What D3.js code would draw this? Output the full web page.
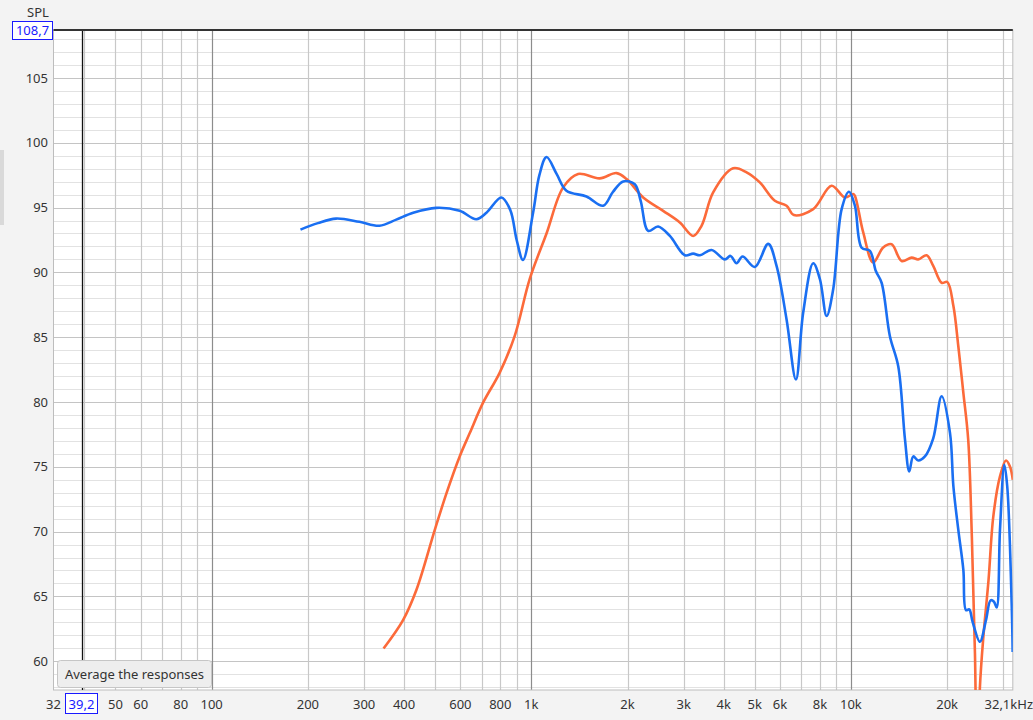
<!DOCTYPE html>
<html><head><meta charset="utf-8">
<script src="https://cdn.jsdelivr.net/npm/d3@7/dist/d3.min.js"></script>
<style>
html,body{margin:0;padding:0;background:#f3f3f3;}
svg{display:block;font-family:"Noto Sans","Open Sans",sans-serif;}
</style></head>
<body>
<svg id="c" width="1033" height="720"></svg>
<script>
// ---- data ----
const blueFreq = [189.6,215,245,290,335,378,427,504,597,673,724,806,860,900,942,1013,1060,1116,1200,1288,1488,1678,1800,1939,2108,2200,2321,2494,2714,3023,3210,3370,3664,4033,4201,4387,4581,5005,5512,5853,6291,6729,7091,7622,8000,8394,8802,9354,9862,10293,10803,11468,11968,12473,13243,14063,14765,15224,15670,16240,17045,18095,19224,20420,20926,21680,22480,22909,23450,24030,25330,26460,27360,28030,28580,29270,30200,30840,31840,32070];
const blueSpl  = [93.3,93.8,94.15,93.9,93.6,94.07,94.6,94.98,94.75,94.1,94.6,95.78,94.8,92.5,90.96,94.6,97.5,98.9,97.6,96.3,95.86,95.14,96.2,97.02,96.8,95.5,93.2,93.54,92.81,91.32,91.45,91.32,91.73,91.0,91.27,90.7,91.22,90.42,92.2,90.5,86.37,81.73,86.9,90.7,89.47,86.63,88.7,94.88,96.22,95.14,91.9,91.66,90.1,89.2,85.08,82.76,77.1,74.64,75.8,75.49,75.8,77.2,80.44,77.6,73.48,70.13,67.04,63.94,64.0,63.04,61.5,63.17,64.7,64.59,64.15,70.13,75.16,73.48,64.46,60.72];
const orangeFreq = [345,397,437,499,543,597,642,706,796,887,989,1116,1258,1401,1637,1848,1987,2239,2586,2916,3210,3409,3707,4281,4716,5188,5781,6291,6631,7622,8700,9572,10164,10293,10928,11745,12618,13410,14410,15490,16240,17256,18095,19224,20027,20926,21680,22480,23280,23900,24440,24850,25330,25970,26950,27890,29270,30560,31450,32100];
const orangeSpl  = [60.98,63.17,65.49,70.13,72.97,75.8,77.6,79.93,82.25,85.08,89.5,93.0,96.56,97.59,97.25,97.66,97.2,95.78,94.75,93.85,92.81,93.59,96.17,98.03,97.72,96.94,95.52,95.14,94.42,94.88,96.68,95.78,96.04,95.91,93.08,90.76,91.92,92.17,90.88,91.14,91.0,91.32,90.5,89.2,89.26,87.4,84.3,80.7,77.1,69.6,60.6,50,58.0,61.9,66.26,71.16,74.26,75.49,75.03,74.0];
const xTickValues = [32,50,60,80,100,200,300,400,600,800,1000,2000,3000,4000,5000,6000,8000,10000,20000];
const xTickLabels = ["32","50","60","80","100","200","300","400","600","800","1k","2k","3k","4k","5k","6k","8k","10k","20k"];
const yTickValues = [60,65,70,75,80,85,90,95,100,105];
const cursorFreq = 39.2, cursorSpl = 108.7;

// ---- layout ----
const L = 53.5, R = 1012.8, T = 30, B = 690;
const svg = d3.select("#c");
const x = d3.scaleLog().domain([32, 32100]).range([L, R]);
const y = d3.scaleLinear().domain([57.78, 108.7]).range([B, T]);

svg.append("rect").attr("x",0).attr("y",150).attr("width",4).attr("height",75).attr("fill","#d9d9d9");
svg.append("rect").attr("x",L).attr("y",T-1).attr("width",R-L).attr("height",B-T+1).attr("fill","#ffffff");

// horizontal grid every 1 dB
const hLines = d3.range(58, 109, 1);
svg.append("g").selectAll("line").data(hLines).join("line")
  .attr("x1",L).attr("x2",R).attr("y1",d=>Math.round(y(d))+0.5).attr("y2",d=>Math.round(y(d))+0.5)
  .attr("stroke",d=>d%5===0?"#c4c4c4":"#e2e2e2").attr("stroke-width",1.2);

// vertical grid
const vLines = [];
[10,100,1000,10000].forEach(dec=>{for(let k=1;k<10;k++){const f=dec*k; if(f>32&&f<32100) vLines.push(f);}});
svg.append("g").selectAll("line").data(vLines).join("line")
  .attr("x1",d=>Math.round(x(d))+0.5).attr("x2",d=>Math.round(x(d))+0.5).attr("y1",T).attr("y2",B)
  .attr("stroke",d=>[100,1000,10000].includes(d)?"#8c8c8c":"#c8c8c8").attr("stroke-width",1.2);

// border
svg.append("rect").attr("x",L).attr("y",T).attr("width",R-L).attr("height",B-T)
  .attr("fill","none").attr("stroke","#bdbdbd").attr("stroke-width",1);

// cursor lines
svg.append("line").attr("x1",Math.round(x(cursorFreq))+0.5).attr("x2",Math.round(x(cursorFreq))+0.5)
  .attr("y1",T).attr("y2",B).attr("stroke","#111").attr("stroke-width",1.3);
svg.append("line").attr("x1",L).attr("x2",R).attr("y1",y(cursorSpl)).attr("y2",y(cursorSpl))
  .attr("stroke","#333").attr("stroke-width",1.8);

// curves
svg.append("clipPath").attr("id","clip").append("rect").attr("x",L).attr("y",T).attr("width",R-L).attr("height",B-T);
const line = d3.line().x(d=>x(d[0])).y(d=>y(d[1])).curve(d3.curveCatmullRom.alpha(0.5));
const g = svg.append("g").attr("clip-path","url(#clip)");
g.append("path").datum(orangeFreq.map((f,i)=>[f,orangeSpl[i]])).attr("d",line)
  .attr("fill","none").attr("stroke","#fc6a3a").attr("stroke-width",2.6).attr("stroke-linejoin","round");
g.append("path").datum(blueFreq.map((f,i)=>[f,blueSpl[i]])).attr("d",line)
  .attr("fill","none").attr("stroke","#1a6ff2").attr("stroke-width",2.6).attr("stroke-linejoin","round");

// y labels
svg.append("g").selectAll("text").data(yTickValues).join("text")
  .attr("x",48).attr("y",d=>y(d)).attr("dy","0.35em").attr("text-anchor","end")
  .attr("font-size",13).attr("fill","#333").text(d=>d);
svg.append("text").attr("x",38).attr("y",17).attr("text-anchor","middle").attr("font-size",13).attr("fill","#333").text("SPL");
svg.append("rect").attr("x",12.5).attr("y",21.5).attr("width",40).attr("height",18).attr("fill","#fff").attr("stroke","#1a1aff").attr("stroke-width",1);
svg.append("text").attr("x",32.5).attr("y",30.5).attr("dy","0.35em").attr("text-anchor","middle").attr("font-size",13).attr("fill","#1a1aff").text("108,7");

// x labels
svg.append("g").selectAll("text").data(xTickValues).join("text")
  .attr("x",d=>x(d)).attr("y",704).attr("dy","0.35em").attr("text-anchor","middle")
  .attr("font-size",13).attr("fill","#333").text((d,i)=>xTickLabels[i]);
svg.append("text").attr("x",1033).attr("y",704).attr("dy","0.35em").attr("text-anchor","end")
  .attr("font-size",13).attr("fill","#333").text("32,1kHz");
svg.append("rect").attr("x",65.5).attr("y",693.5).attr("width",32).attr("height",20).attr("fill","#fff").attr("stroke","#1a1aff").attr("stroke-width",1);
svg.append("text").attr("x",81.5).attr("y",704).attr("dy","0.35em").attr("text-anchor","middle").attr("font-size",13).attr("fill","#1a1aff").text("39,2");

// tooltip button
svg.append("rect").attr("x",57.5).attr("y",660.5).attr("width",154).attr("height",27).attr("rx",3)
  .attr("fill","#eeeeee").attr("stroke","#c6c6c6");
svg.append("text").attr("x",134.5).attr("y",674).attr("dy","0.35em").attr("text-anchor","middle")
  .attr("font-size",13).attr("fill","#333").text("Average the responses");
</script>
</body></html>
